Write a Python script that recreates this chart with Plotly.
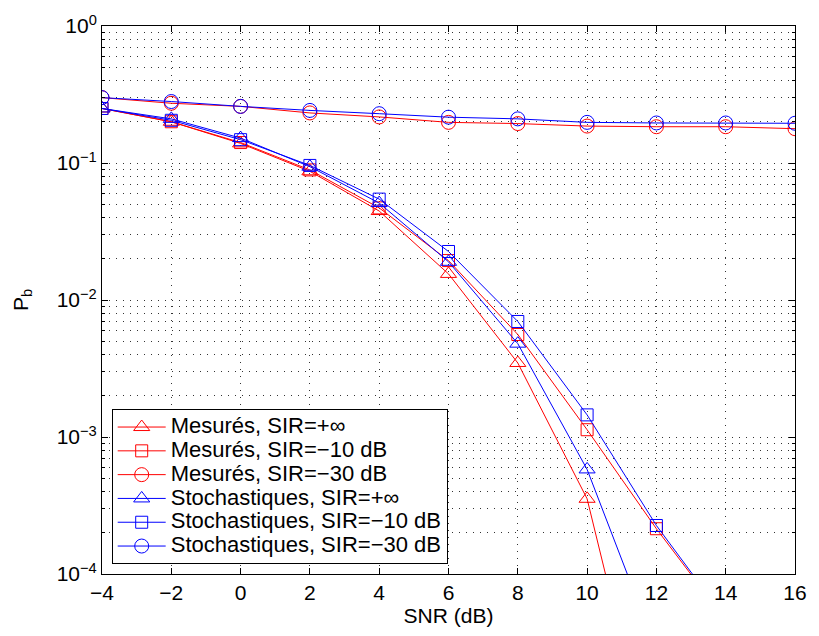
import plotly.graph_objects as go

snr = [-4, -2, 0, 2, 4, 6, 8, 10, 12, 14, 16]
meas_inf = [0.25, 0.2, 0.139, 0.087, 0.0446, 0.0155, 0.00347, 3.54e-4, 3e-6, None, None]
meas_m10 = [0.25, 0.2, 0.141, 0.089, 0.047, 0.0194, 0.0056, 0.00113, 2.14e-4, 4.6e-5, None]
meas_m30 = [0.30, 0.273, 0.259, 0.232, 0.217, 0.198, 0.194, 0.186, 0.184, 0.184, 0.178]
stoch_inf = [0.25, 0.21, 0.152, 0.094, 0.051, 0.019, 0.0048, 5.8e-4, 2.8e-5, None, None]
stoch_m10 = [0.25, 0.205, 0.148, 0.096, 0.0545, 0.0226, 0.00697, 0.00145, 2.26e-4, 4.7e-5, None]
stoch_m30 = [0.30, 0.281, 0.259, 0.242, 0.229, 0.216, 0.21, 0.198, 0.196, 0.196, 0.195]

names = ["Mesurés, SIR=+∞", "Mesurés, SIR=−10 dB", "Mesurés, SIR=−30 dB",
         "Stochastiques, SIR=+∞", "Stochastiques, SIR=−10 dB", "Stochastiques, SIR=−30 dB"]
series = [meas_inf, meas_m10, meas_m30, stoch_inf, stoch_m10, stoch_m30]
colors = ["#FF0000"] * 3 + ["#0000FF"] * 3
symbols = ["triangle-up-open", "square-open", "circle-open"] * 2
sizes = [14, 12, 14] * 2

x_ticks = [-4, -2, 0, 2, 4, 6, 8, 10, 12, 14, 16]
x_ticktext = ["−4", "−2", "0", "2", "4", "6", "8", "10", "12", "14", "16"]
y_ticks = [1e-4, 1e-3, 1e-2, 1e-1, 1]
y_ticktext = ["10<sup>−4</sup>", "10<sup>−3</sup>", "10<sup>−2</sup>", "10<sup>−1</sup>", "10<sup>0</sup>"]
y_minor = [m * 10.0 ** e for e in range(-4, 0) for m in range(2, 10)]

fig = go.Figure()
for i, (nm, ys) in enumerate(zip(names, series)):
    fig.add_trace(go.Scatter(
        x=snr, y=ys, name='<span style="font-size:22px">' + nm + '</span>',
        mode="lines+markers",
        line=dict(color=colors[i], width=1),
        marker=dict(symbol=symbols[i], size=sizes[i], color=colors[i],
                    line=dict(color=colors[i], width=1)),
        legendgroup=str(i), connectgaps=False, cliponaxis=True,
    ))

grid_dash = "1px,6px"
grid_col = "#333333"
fig.update_layout(
    width=819, height=636,
    margin=dict(l=102, r=15, t=22, b=60),
    paper_bgcolor="white", plot_bgcolor="white",
    font=dict(family="Liberation Sans, Arial, sans-serif", size=21, color="black"),
    showlegend=True,
    legend=dict(x=0.014, y=0.018, xanchor="left", yanchor="bottom",
                bgcolor="white", bordercolor="black", borderwidth=1,
                font=dict(size=16), tracegroupgap=0, traceorder="grouped",
                itemwidth=48),
    xaxis=dict(range=[-4, 16], tickvals=x_ticks, ticktext=x_ticktext,
               ticks="inside", ticklen=6, tickcolor="black", tickwidth=1,
               showline=True, linecolor="black", linewidth=1, mirror="ticks",
               showgrid=True, gridcolor=grid_col, gridwidth=1, griddash=grid_dash,
               zeroline=False,
               title=dict(text="SNR (dB)", font=dict(size=21), standoff=5),
               tickfont=dict(size=21)),
    yaxis=dict(type="log", range=[-4, 0], tickvals=y_ticks, ticktext=y_ticktext,
               ticks="inside", ticklen=6, tickcolor="black", tickwidth=1,
               showline=True, linecolor="black", linewidth=1, mirror="ticks",
               showgrid=True, gridcolor=grid_col, gridwidth=1, griddash=grid_dash,
               zeroline=False,
               minor=dict(tickvals=y_minor, ticks="inside", ticklen=3, tickcolor="black",
                          showgrid=True, gridcolor=grid_col, gridwidth=1, griddash=grid_dash),
               title=dict(text="P<sub>b</sub>", font=dict(size=21), standoff=22),
               tickfont=dict(size=21)),
)

fig.write_html("out.html")
